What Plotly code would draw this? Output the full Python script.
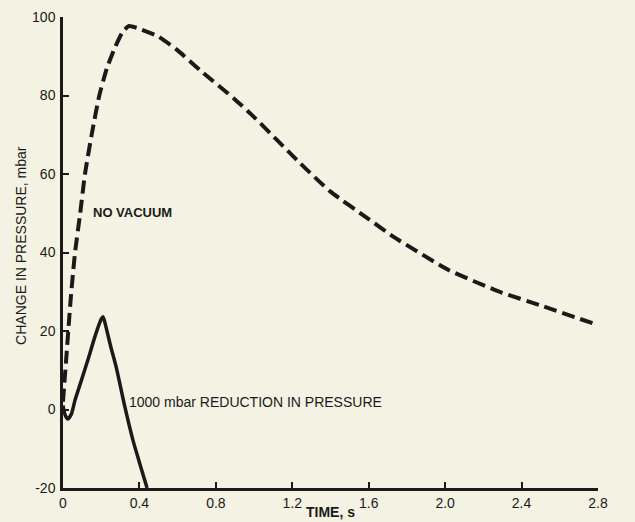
import plotly.graph_objects as go

# No vacuum (dashed)
nv_t = [0.0, 0.02, 0.04, 0.063, 0.09, 0.115, 0.15, 0.19, 0.23, 0.27, 0.31, 0.345,
        0.4, 0.5, 0.6, 0.716, 0.9, 1.0, 1.24, 1.4, 1.6, 1.73, 2.02, 2.285, 2.5, 2.8]
nv_p = [2, 15, 28, 40, 50, 60, 70, 80, 87, 92, 96, 97.7,
        97, 95, 91.5, 86.5, 79, 74.5, 62.8, 55.5, 48.5, 44, 35.5, 30, 26.5, 21.5]

# 1000 mbar reduction in pressure (solid)
rd_t = [0.0, 0.012, 0.026, 0.045, 0.063, 0.1, 0.13, 0.17, 0.2, 0.21, 0.22, 0.25,
        0.28, 0.32, 0.366, 0.40, 0.44]
rd_p = [1, -1.5, -2.4, -1, 2.4, 8, 12.6, 19, 23, 23.6, 22, 16,
        10.5, 1.5, -7.8, -13.5, -20]

x_ticks = [0, 0.4, 0.8, 1.2, 1.6, 2.0, 2.4, 2.8]
x_labels = ["0", "0.4", "0.8", "1.2", "1.6", "2.0", "2.4", "2.8"]
y_ticks = [-20, 0, 20, 40, 60, 80, 100]
y_labels = ["-20", "0", "20", "40", "60", "80", "100"]

bg = "#f4f2e3"
ink = "#1a1a18"
font = "Liberation Sans, Arial, sans-serif"

fig = go.Figure()
fig.add_trace(go.Scatter(x=nv_t, y=nv_p, mode="lines",
                         line=dict(color=ink, width=4, dash="13px,6px",
                                   shape="spline", smoothing=0.5),
                         showlegend=False, hoverinfo="skip"))
fig.add_trace(go.Scatter(x=rd_t, y=rd_p, mode="lines",
                         line=dict(color=ink, width=3.5, shape="spline", smoothing=0.6),
                         showlegend=False, hoverinfo="skip"))

fig.add_annotation(x=0.146, y=50.3, text="<b>NO VACUUM</b>", showarrow=False,
                   xanchor="left", yanchor="middle",
                   font=dict(family=font, size=13, color=ink))
fig.add_annotation(x=0.335, y=1.9, text="1000 mbar REDUCTION IN PRESSURE",
                   showarrow=False, xanchor="left", yanchor="middle",
                   font=dict(family=font, size=14, color=ink))
# axis titles
fig.add_annotation(xref="paper", yref="paper", x=0.5, y=-0.052,
                   text="<b>TIME, s</b>", showarrow=False, borderpad=0,
                   xanchor="center", yanchor="middle",
                   font=dict(family=font, size=14, color=ink))
fig.add_annotation(xref="paper", yref="paper", x=-0.0785, y=0.514,
                   text="CHANGE IN PRESSURE, mbar", showarrow=False, textangle=-90,
                   xanchor="center", yanchor="middle",
                   font=dict(family=font, size=14, color=ink))

fig.update_layout(
    width=635, height=522,
    margin=dict(l=63, r=37, t=17, b=34),
    paper_bgcolor=bg, plot_bgcolor=bg,
    font=dict(family=font, size=14, color=ink),
    xaxis=dict(range=[0, 2.8], tickvals=x_ticks, ticktext=x_labels,
               showgrid=False, zeroline=False, showline=True, automargin=False,
               linecolor=ink, linewidth=2.5, ticks="inside", ticklen=6,
               tickwidth=2, tickcolor=ink, ticklabelstandoff=0,
               tickfont=dict(family=font, size=14, color=ink)),
    yaxis=dict(range=[-20, 100], tickvals=y_ticks, ticktext=y_labels,
               showgrid=False, zeroline=False, showline=True, automargin=False,
               linecolor=ink, linewidth=2.5, ticks="inside", ticklen=6,
               tickwidth=2, tickcolor=ink, ticklabelstandoff=2,
               tickfont=dict(family=font, size=14, color=ink)),
)

fig.write_html("out.html")
